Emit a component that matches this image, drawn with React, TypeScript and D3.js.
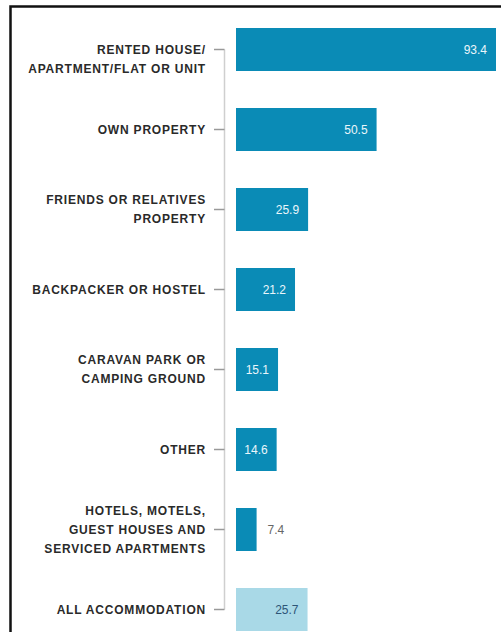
import { useEffect, useRef } from "react"
import * as d3 from "d3"

const categories = [
  "RENTED HOUSE/|APARTMENT/FLAT OR UNIT",
  "OWN PROPERTY",
  "FRIENDS OR RELATIVES|PROPERTY",
  "BACKPACKER OR HOSTEL",
  "CARAVAN PARK OR|CAMPING GROUND",
  "OTHER",
  "HOTELS, MOTELS,|GUEST HOUSES AND|SERVICED APARTMENTS",
  "ALL ACCOMMODATION",
]
const values = [93.4, 50.5, 25.9, 21.2, 15.1, 14.6, 7.4, 25.7]
const totalCategory = "ALL ACCOMMODATION"

export default function App() {
  const svgRef = useRef(null)

  useEffect(() => {
    const width = 501
    const height = 632
    const svg = d3.select(svgRef.current).attr("width", width).attr("height", height)
    svg.selectAll("*").remove()

    // frame
    svg
      .append("rect")
      .attr("x", 10.5)
      .attr("y", 6.5)
      .attr("width", 600)
      .attr("height", 700)
      .attr("fill", "none")
      .attr("stroke", "#111")
      .attr("stroke-width", 2.5)

    const x = d3.scaleLinear().domain([0, 93.4]).range([236, 496])
    const y = d3.scaleBand().domain(categories).range([28, 631]).paddingInner(0.4625).paddingOuter(0)
    const mid = (c) => y(c) + y.bandwidth() / 2

    const axisX = 224.5
    svg
      .append("line")
      .attr("x1", axisX)
      .attr("x2", axisX)
      .attr("y1", mid(categories[0]))
      .attr("y2", mid(categories[categories.length - 1]))
      .attr("stroke", "#cfcfcf")
      .attr("stroke-width", 1.5)

    const row = svg
      .selectAll("g.row")
      .data(categories)
      .enter()
      .append("g")
      .attr("class", "row")

    row
      .append("line")
      .attr("x1", 214)
      .attr("x2", axisX)
      .attr("y1", (d) => mid(d))
      .attr("y2", (d) => mid(d))
      .attr("stroke", "#999")
      .attr("stroke-width", 1.5)

    const lh = 19
    row.each(function (d, i) {
      const lines = d.split("|")
      const start = i === 0 ? 0 : -((lines.length - 1) / 2) * lh
      const t = d3
        .select(this)
        .append("text")
        .attr("text-anchor", "end")
        .attr("font-family", "Liberation Sans, Arial, sans-serif")
        .attr("font-weight", "bold")
        .attr("font-size", 12)
        .attr("letter-spacing", 0.8)
        .attr("fill", "#2a2a2a")
      lines.forEach((l, k) => {
        t.append("tspan")
          .attr("x", 206)
          .attr("y", mid(d) + start + k * lh)
          .attr("dy", "0.36em")
          .text(l)
      })
    })

    row
      .append("rect")
      .attr("x", x(0))
      .attr("y", (d) => y(d))
      .attr("width", (d, i) => x(values[i]) - x(0))
      .attr("height", y.bandwidth())
      .attr("fill", (d) => (d === totalCategory ? "#a9d9e7" : "#0a8bb6"))

    row
      .append("text")
      .attr("x", (d, i) => (values[i] < 10 ? x(values[i]) + 11 : x(values[i]) - 9))
      .attr("y", (d) => mid(d))
      .attr("dy", "0.35em")
      .attr("text-anchor", (d, i) => (values[i] < 10 ? "start" : "end"))
      .attr("font-family", "Liberation Sans, Arial, sans-serif")
      .attr("font-size", 12)
      .attr("fill", (d, i) => (d === totalCategory ? "#2d5577" : values[i] < 10 ? "#666" : "#eaf6fb"))
      .text((d, i) => values[i].toFixed(1))
  }, [])

  return <svg ref={svgRef} style={{ position: "absolute", left: 0, top: 0, background: "#fff" }}></svg>
}
